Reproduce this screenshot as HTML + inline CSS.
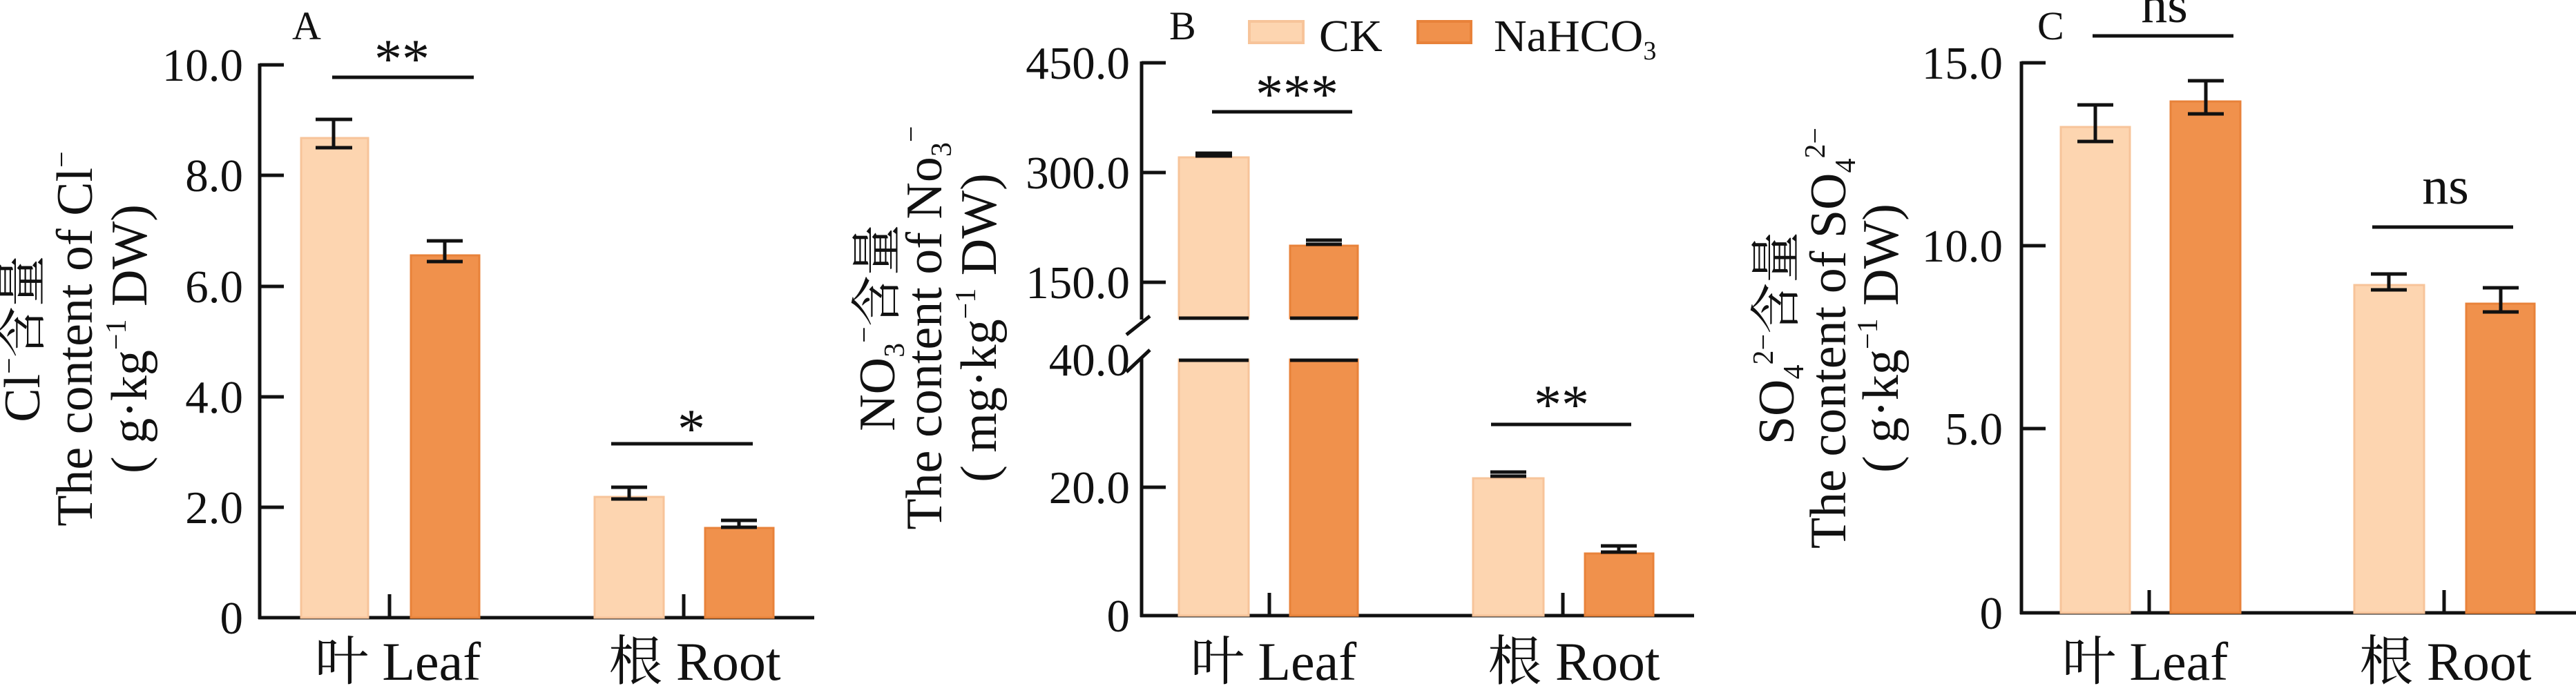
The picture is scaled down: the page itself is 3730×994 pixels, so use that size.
<!DOCTYPE html>
<html><head><meta charset="utf-8"><style>
html,body{margin:0;padding:0;background:#fff;}
svg{display:block;}
text{font-family:"Liberation Serif","Noto Serif CJK SC","Noto Sans CJK SC",serif;fill:#111;}
</style></head><body>
<svg width="3730" height="994" viewBox="0 0 3730 994" xmlns="http://www.w3.org/2000/svg">
<g stroke="#111" stroke-width="5" fill="none">
<line x1="376" y1="92" x2="376" y2="897"/>
<line x1="374" y1="895" x2="1179" y2="895"/>
<line x1="376" y1="94" x2="411" y2="94"/>
<line x1="376" y1="254" x2="411" y2="254"/>
<line x1="376" y1="415" x2="411" y2="415"/>
<line x1="376" y1="575" x2="411" y2="575"/>
<line x1="376" y1="735" x2="411" y2="735"/>
<line x1="564" y1="861" x2="564" y2="895"/>
<line x1="990" y1="861" x2="990" y2="895"/>
<line x1="1653" y1="89" x2="1653" y2="463"/>
<line x1="1653" y1="519" x2="1653" y2="894"/>
<line x1="1651" y1="892" x2="2453" y2="892"/>
<line x1="1653" y1="91" x2="1688" y2="91"/>
<line x1="1653" y1="250" x2="1688" y2="250"/>
<line x1="1653" y1="409" x2="1688" y2="409"/>
<line x1="1653" y1="706" x2="1688" y2="706"/>
<line x1="1631" y1="485" x2="1665" y2="458"/>
<line x1="1631" y1="539" x2="1665" y2="507"/>
<line x1="1838" y1="859" x2="1838" y2="892"/>
<line x1="2263" y1="859" x2="2263" y2="892"/>
<line x1="2927" y1="89" x2="2927" y2="890"/>
<line x1="2925" y1="888" x2="3730" y2="888"/>
<line x1="2927" y1="91" x2="2962" y2="91"/>
<line x1="2927" y1="356" x2="2962" y2="356"/>
<line x1="2927" y1="621" x2="2962" y2="621"/>
<line x1="3112" y1="855" x2="3112" y2="888"/>
<line x1="3539" y1="855" x2="3539" y2="888"/>
</g>
<g stroke-width="3">
<rect x="436" y="200" width="97" height="695" fill="#fdd5b0" stroke="#f7c49a"/>
<rect x="595" y="370" width="99" height="525" fill="#f0914c" stroke="#e8823a"/>
<rect x="861" y="720" width="100" height="175" fill="#fdd5b0" stroke="#f7c49a"/>
<rect x="1021" y="765" width="99" height="130" fill="#f0914c" stroke="#e8823a"/>
<rect x="1707" y="228" width="101" height="233" fill="#fdd5b0" stroke="#f7c49a"/>
<rect x="1868" y="356" width="98" height="105" fill="#f0914c" stroke="#e8823a"/>
<rect x="1707" y="521" width="101" height="371" fill="#fdd5b0" stroke="#f7c49a"/>
<rect x="1868" y="521" width="98" height="371" fill="#f0914c" stroke="#e8823a"/>
<rect x="2133" y="693" width="102" height="199" fill="#fdd5b0" stroke="#f7c49a"/>
<rect x="2295" y="802" width="99" height="90" fill="#f0914c" stroke="#e8823a"/>
<rect x="2984" y="184" width="100" height="704" fill="#fdd5b0" stroke="#f7c49a"/>
<rect x="3143" y="147" width="101" height="741" fill="#f0914c" stroke="#e8823a"/>
<rect x="3409" y="413" width="101" height="475" fill="#fdd5b0" stroke="#f7c49a"/>
<rect x="3571" y="440" width="99" height="448" fill="#f0914c" stroke="#e8823a"/>
</g>
<g stroke="#111" stroke-width="5" fill="none">
<line x1="1707" y1="461" x2="1808" y2="461"/>
<line x1="1868" y1="461" x2="1966" y2="461"/>
<line x1="1707" y1="522" x2="1808" y2="522"/>
<line x1="1868" y1="522" x2="1966" y2="522"/>
<path d="M457 173H510M483 173V214M457 214H510"/>
<path d="M618 349H670M644 349V379M618 379H670"/>
<path d="M885 706H937M911 706V723M885 723H937"/>
<path d="M1044 754H1096M1070 754V764M1044 764H1096"/>
<path d="M1731 222H1784M1731 226H1784"/>
<path d="M1891 348H1943M1891 354H1943"/>
<path d="M2158 684H2210M2158 690H2210"/>
<path d="M2318 791H2370M2344 791V800M2318 800H2370"/>
<path d="M3008 152H3060M3034 152V205M3008 205H3060"/>
<path d="M3168 117H3220M3194 117V165M3168 165H3220"/>
<path d="M3433 397H3485M3459 397V420M3433 420H3485"/>
<path d="M3595 417H3647M3621 417V452M3595 452H3647"/>
<line x1="481" y1="112" x2="686" y2="112"/>
<line x1="885" y1="643" x2="1090" y2="643"/>
<line x1="1755" y1="162" x2="1958" y2="162"/>
<line x1="2159" y1="615" x2="2362" y2="615"/>
<line x1="3030" y1="52" x2="3234" y2="52"/>
<line x1="3435" y1="329" x2="3639" y2="329"/>
</g>
<g font-size="67" text-anchor="end">
<text x="352" y="117">10.0</text><text x="352" y="277">8.0</text><text x="352" y="438">6.0</text>
<text x="352" y="598">4.0</text><text x="352" y="758">2.0</text><text x="352" y="918">0</text>
<text x="1636" y="114">450.0</text><text x="1636" y="273">300.0</text><text x="1636" y="432">150.0</text>
<text x="1636" y="544">40.0</text><text x="1636" y="729">20.0</text><text x="1636" y="915">0</text>
<text x="2900" y="114">15.0</text><text x="2900" y="379">10.0</text><text x="2900" y="644">5.0</text><text x="2900" y="911">0</text>
</g>
<g font-size="78" text-anchor="middle">
<text x="576" y="985">叶 Leaf</text><text x="1006" y="985">根 Root</text>
<text x="1844" y="985">叶 Leaf</text><text x="2279" y="985">根 Root</text>
<text x="3106" y="985">叶 Leaf</text><text x="3541" y="985">根 Root</text>
</g>
<g font-size="58">
<text x="423" y="57">A</text><text x="1693" y="57">B</text><text x="2950" y="57">C</text>
</g>
<g font-size="80" text-anchor="middle">
<text x="582" y="112">**</text><text x="1001" y="648">*</text>
<text x="1878" y="163">***</text><text x="2261" y="613">**</text>
</g>
<g font-size="76" text-anchor="middle">
<text x="3134" y="32">ns</text><text x="3541" y="295">ns</text>
</g>
<rect x="1809" y="31" width="78" height="31" fill="#fdd5b0" stroke="#f7c49a" stroke-width="4"/>
<text x="1910" y="74" font-size="66">CK</text>
<rect x="2053" y="31" width="77" height="31" fill="#f0914c" stroke="#e8823a" stroke-width="4"/>
<text x="2163" y="74" font-size="66">NaHCO<tspan font-size="38" dy="12">3</tspan></text>
<g font-size="74" text-anchor="middle">
<text transform="translate(57,491) rotate(-90)">Cl<tspan font-size="42" dy="-30">−</tspan><tspan dy="30">含量</tspan></text>
<text transform="translate(133,491) rotate(-90)">The content of Cl<tspan font-size="42" dy="-30">−</tspan></text>
<text transform="translate(212,491) rotate(-90)">( g·kg<tspan font-size="42" dy="-30">−1</tspan><tspan dy="30"> DW)</tspan></text>
<text transform="translate(1295,475) rotate(-90)">NO<tspan font-size="42" dy="14">3</tspan><tspan font-size="42" dy="-44">−</tspan><tspan dy="30">含量</tspan></text>
<text transform="translate(1363,475) rotate(-90)">The content of No<tspan font-size="42" dy="14">3</tspan><tspan font-size="42" dy="-44">−</tspan></text>
<text transform="translate(1442,475) rotate(-90)">( mg·kg<tspan font-size="42" dy="-30">−1</tspan><tspan dy="30"> DW)</tspan></text>
<text transform="translate(2597,490) rotate(-90)">SO<tspan font-size="42" dy="14">4</tspan><tspan font-size="42" dy="-44">2−</tspan><tspan dy="30">含量</tspan></text>
<text transform="translate(2672,490) rotate(-90)">The content of SO<tspan font-size="42" dy="14">4</tspan><tspan font-size="42" dy="-44">2−</tspan></text>
<text transform="translate(2748,490) rotate(-90)">( g·kg<tspan font-size="42" dy="-30">−1</tspan><tspan dy="30"> DW)</tspan></text>
</g>
</svg>
</body></html>
